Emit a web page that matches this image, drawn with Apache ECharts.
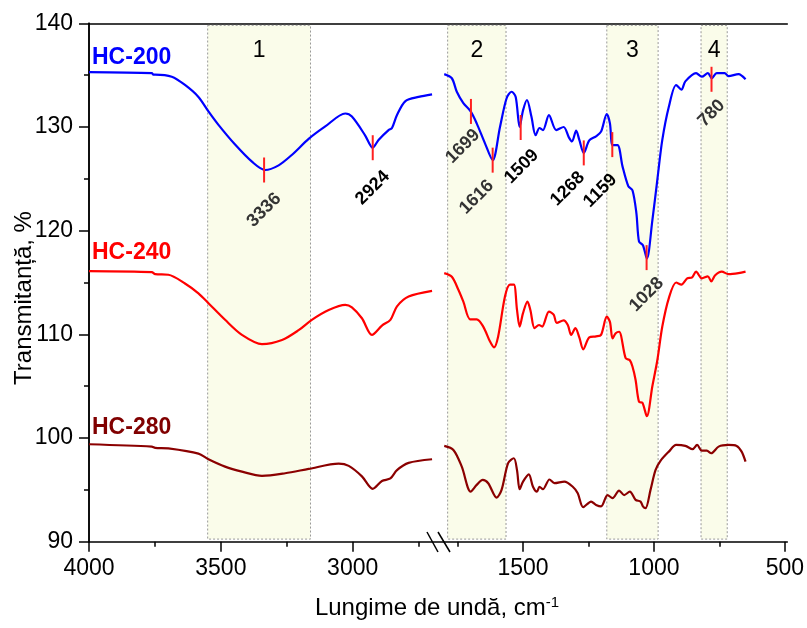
<!DOCTYPE html>
<html>
<head>
<meta charset="utf-8">
<script src="https://cdn.jsdelivr.net/npm/echarts@6/dist/echarts.min.js"></script>
<style>html,body{margin:0;padding:0;background:#fff}#c{width:807px;height:628px}</style>
</head>
<body>
<div id="c"></div>
<script>
// ---- data (wavenumber, cm-1 / transmittance, %) ----
const hc200LeftWn = [4000,3762,3756,3749,3686,3636,3585,3547,3509,3446,3382,3332,3281,3231,3167,3104,3028,3003,2953,2924,2902,2864,2851,2832,2800,2750,2699];
const hc200LeftT  = [135.3,135.2,135.05,135.05,134.85,134.05,132.9,131.5,130.2,128.3,126.65,125.85,126.3,127.3,128.85,130.05,131.3,131.0,129.2,128.0,128.75,129.7,129.9,131.15,132.5,132.9,133.15];

const hc240LeftWn = [4000,3762,3749,3699,3636,3585,3547,3484,3420,3344,3268,3205,3155,3091,3028,3003,2965,2927,2889,2857,2832,2788,2699];
const hc240LeftT  = [116.1,116.0,115.8,115.75,114.9,113.95,113.0,111.4,109.95,109.05,109.45,110.4,111.4,112.35,112.85,112.6,111.55,109.95,110.85,111.4,112.7,113.65,114.2];

const hc280LeftWn = [4000,3762,3749,3699,3585,3547,3484,3420,3344,3256,3167,3053,3015,2965,2924,2889,2857,2832,2788,2699];
const hc280LeftT  = [99.4,99.17,99.05,99.0,98.5,97.95,97.24,96.76,96.35,96.6,97.02,97.53,97.31,96.3,95.1,95.86,96.1,96.9,97.6,97.95];

const hc200RightWn = [1801,1772,1753,1728,1700,1677,1645,1616,1588,1563,1544,1528,1513,1500,1485,1468,1452,1437,1424,1401,1373,1345,1325,1313,1297,1285,1268,1247,1221,1202,1180,1168,1158,1139,1120,1098,1082,1067,1057,1042,1027,1006,987,968,943,915,895,880,839,817,794,779,760,730,715,677,650];
const hc200RightT  = [135.1,134.7,133.4,132.3,131.5,130.35,128.4,126.8,130.0,132.75,133.4,132.9,130.0,131.6,132.6,131.0,129.2,129.9,129.7,131.15,129.7,130.0,129.0,128.6,129.65,128.75,127.5,128.7,129.1,129.55,131.25,130.35,128.25,128.25,126.2,124.3,123.9,121.7,118.95,118.6,117.3,121.0,124.9,128.75,131.95,134.05,133.6,134.4,135.2,134.85,135.2,134.7,135.2,135.2,134.9,135.1,134.6];

const hc240RightWn = [1801,1772,1747,1728,1702,1677,1652,1626,1611,1595,1569,1550,1535,1523,1513,1500,1483,1472,1456,1439,1427,1401,1383,1371,1345,1329,1316,1300,1285,1270,1247,1221,1202,1180,1168,1158,1146,1133,1108,1092,1082,1070,1057,1044,1027,1006,987,968,943,915,895,873,854,839,817,794,781,766,741,715,677,650];
const hc240RightT  = [115.9,115.55,114.3,113.15,111.45,111.45,110.75,109.3,108.75,109.8,113.65,114.8,114.8,112.35,110.75,112.05,113.15,112.35,110.6,110.9,110.75,112.2,111.9,111.1,111.35,110.9,109.95,110.6,109.7,108.55,109.7,109.8,109.95,111.7,111.2,109.6,110.1,110.25,107.7,107.5,106.9,105.6,103.5,103.4,102.1,105.0,107.5,110.75,113.5,115.0,114.8,115.4,115.5,116.05,115.4,115.6,115.1,115.7,116.05,115.8,115.9,116.05];

const hc280RightWn = [1801,1766,1734,1700,1677,1654,1633,1601,1582,1557,1535,1523,1513,1500,1478,1462,1447,1437,1424,1399,1380,1342,1310,1291,1270,1240,1221,1202,1177,1158,1133,1114,1092,1070,1051,1042,1032,1013,994,975,943,915,880,852,835,817,798,781,753,715,684,665,650];
const hc280RightT  = [99.24,98.85,97.24,94.83,95.48,95.96,95.64,94.25,95.0,97.57,98.05,96.9,95.06,95.8,96.5,95.3,94.83,95.3,95.06,96.0,95.64,95.8,95.3,94.68,93.33,93.87,93.55,93.4,94.5,94.2,94.93,94.5,94.83,94.03,93.87,93.4,93.23,95.0,96.9,97.8,98.69,99.33,99.24,98.92,99.33,98.78,98.78,98.53,99.17,99.33,99.24,98.69,97.72];

// peak annotations on HC-200
const peaksLeftWn  = [3336, 2924];
const peaksLeftT   = [125.85, 128.0];
const peaksRightWn = [1699, 1616, 1509, 1268, 1159, 1028, 780];
const peaksRightT  = [131.5, 126.8, 129.95, 127.5, 128.3, 117.4, 134.6];

// shaded regions
const bandNames = ['1', '2', '3', '4'];
const bandFrom  = [3550, 1788, 1180, 820];
const bandTo    = [3160, 1565, 984, 720];

// axis ticks
const yMin = 90, yMax = 140, yStep = 10;
const leftMajor = [3000, 3500, 4000], leftMinor = [2750, 3250, 3750];
const rightMajor = [500, 1000, 1500], rightMinor = [750, 1250, 1750];

// ---- styling ----
const zip = (a, b) => a.map((v, i) => [v, b[i]]);
const FONT = 'Liberation Sans, Arial, sans-serif';
const axisLineStyle = { color: '#000', width: 1.5 };
const C200 = '#0000ff', C240 = '#ff0000', C280 = '#8b0000';

// desired screen offsets (dx, dy) of peak labels from the tick centre, and colours
const peakStyle = {
  3336: { off: [0, 40], color: '#333' },
  2924: { off: [0, 40], color: '#000' },
  1699: { off: [-8, 35], color: '#333' },
  1616: { off: [-16, 37], color: '#333' },
  1509: { off: [1, 39], color: '#000' },
  1268: { off: [-16, 36], color: '#000' },
  1159: { off: [-12, 46], color: '#000' },
  1028: { off: [0, 37], color: '#333' },
  780:  { off: [0, 34], color: '#333' }
};
// label offset is rotated together with the label (45 deg), so convert to local frame
const R = Math.SQRT1_2;
const toLocal = ([dx, dy]) => [R * (dx - dy), R * (dx + dy)];
function peakData(wn, t) {
  return wn.map((w, i) => ({
    name: String(w), coord: [w, t[i]],
    label: { offset: toLocal(peakStyle[w].off), color: peakStyle[w].color }
  }));
}
function markPoints(wn, t) {
  return {
    symbol: 'rect', symbolSize: [2, 25], silent: true,
    itemStyle: { color: '#ff2020' },
    label: { show: true, formatter: '{b}', rotate: 45, position: 'inside',
      fontSize: 18, fontWeight: 'bold', fontFamily: FONT, align: 'center', verticalAlign: 'middle' },
    data: peakData(wn, t)
  };
}
function bandArea(idx) {
  return {
    silent: true,
    itemStyle: { color: '#fafcea', borderColor: '#999', borderWidth: 1, borderType: [2, 2] },
    label: { show: true, position: 'insideTop', distance: 14, fontSize: 23, color: '#000', fontFamily: FONT },
    data: idx.map(i => [{ name: bandNames[i], xAxis: bandFrom[i], yAxis: 139.8 }, { xAxis: bandTo[i], yAxis: 90.25 }])
  };
}
function line(name, color, xi, wn, t, mp) {
  const s = { name, type: 'line', xAxisIndex: xi, yAxisIndex: xi, data: zip(wn, t),
    showSymbol: false, smooth: 0.3, z: 3, lineStyle: { color, width: 2.2 }, itemStyle: { color } };
  if (mp) s.markPoint = mp;
  return s;
}
const plainNum = v => String(v);

const G = { top: 23.3, bottom: 86.3 };
const option = {
  animation: false,
  textStyle: { fontFamily: FONT },
  grid: [
    { left: 89, width: 342.8, top: G.top, bottom: G.bottom },
    { left: 444.5, right: 19.7, top: G.top, bottom: G.bottom },
    { left: 89, right: 19.7, top: G.top, bottom: G.bottom }
  ],
  xAxis: [
    { gridIndex: 0, type: 'value', min: 2700, max: 4000, inverse: true, splitLine: { show: false },
      axisLine: { show: false },
      axisTick: { show: true, length: 10, lineStyle: axisLineStyle, customValues: leftMajor },
      axisLabel: { customValues: leftMajor, formatter: plainNum, fontSize: 23, color: '#000', margin: 15 } },
    { gridIndex: 1, type: 'value', min: 500, max: 1800, inverse: true, splitLine: { show: false },
      axisLine: { show: false },
      axisTick: { show: true, length: 10, lineStyle: axisLineStyle, customValues: rightMajor },
      axisLabel: { customValues: rightMajor, formatter: plainNum, fontSize: 23, color: '#000', margin: 15 } },
    { gridIndex: 0, type: 'value', min: 2700, max: 4000, inverse: true, position: 'bottom', splitLine: { show: false },
      axisLine: { show: false }, axisLabel: { show: false },
      axisTick: { show: true, length: 5, lineStyle: axisLineStyle, customValues: leftMinor } },
    { gridIndex: 1, type: 'value', min: 500, max: 1800, inverse: true, position: 'bottom', splitLine: { show: false },
      axisLine: { show: false }, axisLabel: { show: false },
      axisTick: { show: true, length: 5, lineStyle: axisLineStyle, customValues: rightMinor } },
    { gridIndex: 2, type: 'value', min: 0, max: 1, position: 'bottom', splitLine: { show: false },
      axisLine: { show: true, lineStyle: axisLineStyle }, axisTick: { show: false }, axisLabel: { show: false } },
    { gridIndex: 2, type: 'value', min: 0, max: 1, position: 'top', splitLine: { show: false },
      axisLine: { show: true, lineStyle: axisLineStyle }, axisTick: { show: false }, axisLabel: { show: false } }
  ],
  yAxis: [
    { gridIndex: 0, type: 'value', min: yMin, max: yMax, interval: yStep, splitLine: { show: false },
      axisLine: { show: true, lineStyle: axisLineStyle },
      axisTick: { show: true, length: 10, lineStyle: axisLineStyle },
      minorTick: { show: true, splitNumber: 2, length: 5, lineStyle: axisLineStyle },
      axisLabel: { fontSize: 23, color: '#000', margin: 16 } },
    { gridIndex: 1, type: 'value', min: yMin, max: yMax, show: false },
    { gridIndex: 2, type: 'value', min: 0, max: 1, position: 'right', splitLine: { show: false },
      axisLine: { show: true, lineStyle: axisLineStyle }, axisTick: { show: false }, axisLabel: { show: false } }
  ],
  series: [
    { type: 'line', xAxisIndex: 0, yAxisIndex: 0, data: [], z: 1, markArea: bandArea([0]) },
    { type: 'line', xAxisIndex: 1, yAxisIndex: 1, data: [], z: 1, markArea: bandArea([1, 2, 3]) },
    line('HC-280', C280, 0, hc280LeftWn, hc280LeftT),
    line('HC-240', C240, 0, hc240LeftWn, hc240LeftT),
    line('HC-200', C200, 0, hc200LeftWn, hc200LeftT, markPoints(peaksLeftWn, peaksLeftT)),
    line('HC-280', C280, 1, hc280RightWn, hc280RightT),
    line('HC-240', C240, 1, hc240RightWn, hc240RightT),
    line('HC-200', C200, 1, hc200RightWn, hc200RightT, markPoints(peaksRightWn, peaksRightT))
  ],
  graphic: [
    { type: 'text', left: 92, top: 46, style: { text: 'HC-200', fill: C200, font: 'bold 23px ' + FONT } },
    { type: 'text', left: 92, top: 241, style: { text: 'HC-240', fill: C240, font: 'bold 23px ' + FONT } },
    { type: 'text', left: 92, top: 416, style: { text: 'HC-280', fill: '#800000', font: 'bold 23px ' + FONT } },
    { type: 'text', x: 24, y: 298, rotation: Math.PI / 2,
      style: { text: 'Transmitanță, %', fill: '#000', font: '24px ' + FONT, textAlign: 'center', textVerticalAlign: 'middle' } },
    { type: 'text', x: 437, y: 608,
      style: { text: '{m|Lungime de undă, cm}{s|-1}', fill: '#000', textAlign: 'center', textVerticalAlign: 'middle',
        rich: { m: { fontSize: 24, fontFamily: FONT, color: '#000' },
                s: { fontSize: 15, fontFamily: FONT, color: '#000', verticalAlign: 'top', padding: [0, 0, 10, 0] } } } },
    { type: 'line', shape: { x1: 427, y1: 532, x2: 438, y2: 552 }, style: { stroke: '#000', lineWidth: 1.5 } },
    { type: 'line', shape: { x1: 438, y1: 532, x2: 450, y2: 552 }, style: { stroke: '#000', lineWidth: 1.5 } }
  ]
};
const chart = echarts.init(document.getElementById('c'), null, { renderer: 'canvas' });
chart.setOption(option);
</script>
</body>
</html>
